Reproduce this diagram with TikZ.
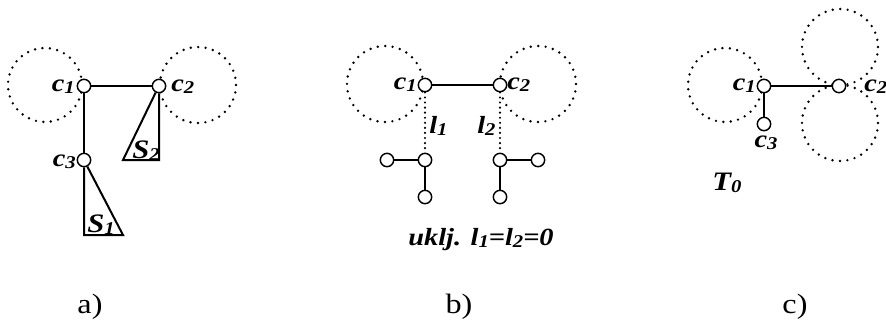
\documentclass[tikz,border=0pt]{standalone}
\usepackage{fontspec}
\setmainfont[FakeStretch=1.15]{Liberation Serif}
\newcommand\subx[1]{\raisebox{-1.5pt}{\fontsize{13.5}{13.5}\selectfont #1}}
\begin{document}
\begin{tikzpicture}[x=0.75pt,y=-0.75pt,
  vtx/.style={circle,draw,fill=white,line width=1.1pt,minimum size=10pt,inner sep=0pt},
  edge/.style={line width=1.5pt},
  tri/.style={line width=1.5pt,line join=miter},
  dotc/.style={line width=2pt,line cap=round,dash pattern=on 0pt off 5.6pt},
  dotl/.style={line width=1.8pt,line cap=round,dash pattern=on 0pt off 3.8pt},
  lbl/.style={font=\fontsize{18.5}{18.5}\selectfont\bfseries\itshape,inner sep=0pt},
  big/.style={font=\fontsize{20}{20}\selectfont\bfseries\itshape,inner sep=0pt},
  captxt/.style={font=\fontsize{21}{21}\selectfont,inner sep=0pt}]
\useasboundingbox (0,0) rectangle (886,322);

% ---------- panel a ----------
\draw[dotc] (45,85) circle[radius=37];
\draw[dotc] (198,85) circle[radius=38];
\node[vtx] (a1) at (84,86) {};
\node[vtx] (a2) at (159,86) {};
\node[vtx] (a3) at (84,160) {};
\draw[edge] (a1) -- (a2);
\draw[edge] (a1) -- (a3);
\draw[tri] (a2.south) -- (159,160) -- (123,160) -- (a2.243);
\draw[tri] (a3.south) -- (84,235) -- (123,235) -- (a3.297);
\node[lbl,anchor=base east] (la1) at (75,91) {c\subx{1}};
\node[lbl,anchor=base west] (la2) at (171,91) {c\subx{2}};
\node[lbl,anchor=base east] (la3) at (76,166) {c\subx{3}};
\node[big,anchor=base west] (ls2) at (132,158) {S\subx{2}};
\node[big,anchor=base west] (ls1) at (87,232) {S\subx{1}};
\node[captxt,anchor=base] (capa) at (90,313) {a)};

% ---------- panel b ----------
\draw[dotc] (385,84) circle[radius=38];
\draw[dotc] (538,84) circle[radius=38];
\node[vtx] (b1) at (425,85) {};
\node[vtx] (b2) at (500,85) {};
\node[vtx] (b3) at (425,160) {};
\node[vtx] (b4) at (387,160) {};
\node[vtx] (b5) at (425,197) {};
\node[vtx] (b6) at (500,160) {};
\node[vtx] (b7) at (538,160) {};
\node[vtx] (b8) at (500,197) {};
\draw[edge] (b1) -- (b2);
\draw[dotl] (b1) -- (b3);
\draw[dotl] (b2) -- (b6);
\draw[edge] (b4) -- (b3);
\draw[edge] (b3) -- (b5);
\draw[edge] (b6) -- (b7);
\draw[edge] (b6) -- (b8);
\node[lbl,anchor=base east] (lb1) at (417,89) {c\subx{1}};
\node[lbl,anchor=base west] (lb2) at (507,89) {c\subx{2}};
\node[lbl,anchor=base west] (ll1) at (429,133) {l\subx{1}};
\node[lbl,anchor=base west] (ll2) at (477,133) {l\subx{2}};
\node[lbl,anchor=base] (ukl) at (481,245) {uklj. l\subx{1}=l\subx{2}=0};
\node[captxt,anchor=base] (capb) at (459,313) {b)};

% ---------- panel c ----------
\draw[dotc] (725,85) circle[radius=37];
\draw[dotc] (840,47) circle[radius=38];
\draw[dotc] (840,123) circle[radius=38];
\node[vtx] (c1) at (764,86) {};
\node[vtx] (c2) at (839,86) {};
\node[vtx] (c3) at (764,124) {};
\draw[edge] (c1) -- (c2);
\draw[edge] (c1) -- (c3);
\node[lbl,anchor=base east] (lc1) at (756,90) {c\subx{1}};
\node[lbl,anchor=base west] (lc2) at (864,91) {c\subx{2}};
\node[lbl,anchor=base] (lc3) at (766,147) {c\subx{3}};
\node[big,anchor=base west] (lt0) at (712,190) {T\subx{0}};
\node[captxt,anchor=base] (capc) at (795,313) {c)};
\end{tikzpicture}
\end{document}
